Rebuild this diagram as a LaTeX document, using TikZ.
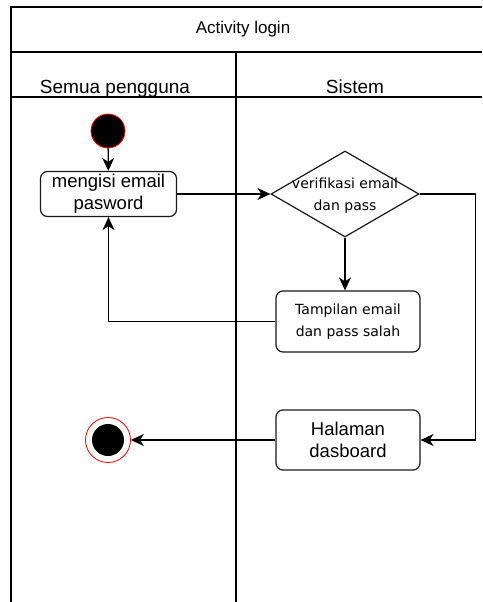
\documentclass[tikz,border=0pt]{standalone}
\usepackage{fontspec}
\setmainfont{Liberation Sans}
\newfontfamily\smallfont{DejaVu Sans}
\usetikzlibrary{shapes.geometric,arrows.meta}
\begin{document}
\begin{tikzpicture}[x=1pt,y=-1pt,
  frame/.style={line width=1.3pt,draw=black},
  box/.style={draw=black!90,line width=1.2pt,rounded corners=7pt,align=center,inner sep=0pt},
  conn/.style={line width=1.3pt,draw=black,-{Stealth[length=13pt,width=12pt,inset=4pt]}},
  bigtxt/.style={font=\fontsize{18.5}{22}\selectfont},
  smtxt/.style={font=\smallfont\fontsize{14}{22}\selectfont}
]
\useasboundingbox (0,0) rectangle (482,602);
% frame
\draw[frame] (11,602) -- (11,7) -- (482,7);
\draw[frame] (11,52) -- (482,52);
\draw[frame] (11,97) -- (482,97);
\draw[frame] (236,52) -- (236,602);
\node (title) at (243,29) {\fontsize{17}{20}\selectfont Activity login};
\node[anchor=base] (lane1) at (115,93) {\fontsize{19}{22}\selectfont Semua pengguna};
\node[anchor=base] (lane2) at (355,93) {\fontsize{19}{22}\selectfont Sistem};
% nodes
\node[circle,fill=black,draw=red,line width=0.8pt,minimum size=34pt,inner sep=0pt] (start) at (108,131) {};
\node[box,bigtxt,minimum width=136pt,minimum height=45pt] (isi) at (108.5,194) {mengisi email\\pasword};
\node[diamond,draw=black!90,line width=1.2pt,minimum width=148pt,minimum height=86pt,inner sep=0pt] (dec) at (345,194) {};
\node[smtxt,align=center] (dectxt) at (345,196) {verifikasi email\\dan pass};
\node[box,smtxt,minimum width=144pt,minimum height=61pt] (salah) at (348,321.5) {Tampilan email\\dan pass salah};
\node[box,bigtxt,minimum width=144pt,minimum height=60pt] (dash) at (348,440) {Halaman\\dasboard};
\node[circle,draw=red,line width=0.8pt,fill=white,minimum size=45pt,inner sep=0pt] (end) at (108,440) {};
\fill[black] (end.center) circle (16pt);
% connectors
\draw[conn] (start) -- (isi);
\draw[conn] (isi.east) -- (dec.west);
\draw[conn] (dec.east) -- ++(56,0) |- (dash.east);
\draw[conn] (dec.south) -- (dec.south |- salah.north);
\draw[conn] (salah.west) -| (isi.south);
\draw[conn] (dash.west) -- (end);
\end{tikzpicture}
\end{document}
